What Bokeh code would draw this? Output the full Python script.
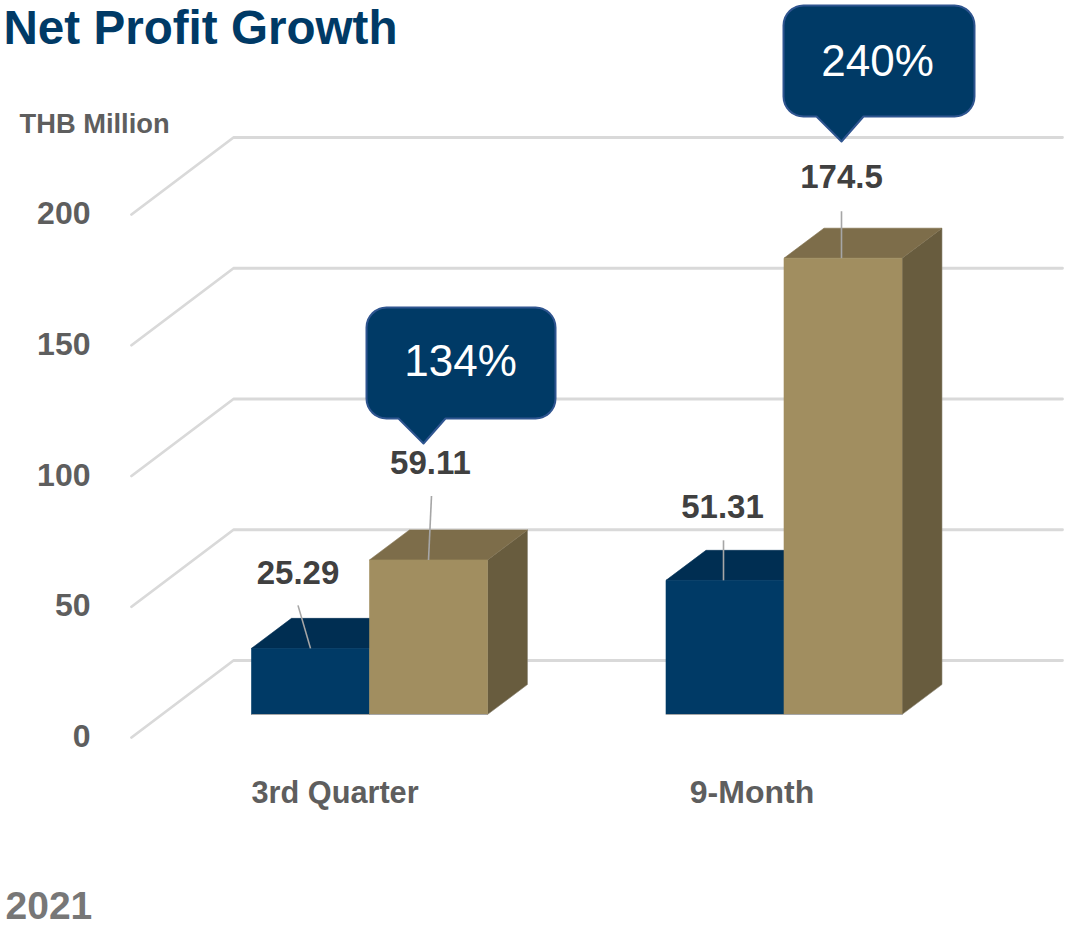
from bokeh.plotting import figure
from bokeh.embed import file_html
from bokeh.resources import INLINE
from bokeh.core.properties import value
import math

# ---- data ----
categories = ["3rd Quarter", "9-Month"]
series_prev = [25.29, 51.31]
series_curr = [59.11, 174.5]
growth_labels = ["134%", "240%"]
tick_values = [0, 50, 100, 150, 200]
prev_labels = ["25.29", "51.31"]
curr_labels = ["59.11", "174.5"]

# ---- layout ----
W, H = 1068, 930
PX = 2.615          # pixels per THB million
Y0 = 714            # pixel row of value 0 at the bars' front
def v(px):          # pixel height -> value units
    return px / PX

FONT = value("Liberation Sans")
BLUE = ("#003A66", "#002E52")
TAN = ("#A18E60", "#7D6D4A", "#685C3E")
GRID = "#D9D9D9"

p = figure(width=W, height=H, output_backend="svg", toolbar_location=None,
           x_range=(0, W), y_range=((Y0 - H) / PX, Y0 / PX),
           min_border=0, outline_line_color=None)
p.axis.visible = False
p.grid.visible = False

# walls: back gridlines plus the left floor/wall diagonals
wall_y = v(54)      # back wall offset
front_y = v(-23)    # front end of diagonals
for t in tick_values:
    p.line([131, 233, 1062], [t + front_y, t + wall_y, t + wall_y],
           line_color=GRID, line_width=2.8, line_join="round", line_cap="round")

# 3-D bars
BAR_W = 118
DX, DY = 40, v(30)
group_x = [251, 665.5]

def box(x, top, colors):
    r = x + BAR_W
    if len(colors) == 3:
        p.patch([r, r + DX, r + DX, r], [0, DY, top + DY, top],
                fill_color=colors[2], line_color="#8f8a7a", line_width=0.6)
    p.patch([x, x + DX, r + DX, r], [top, top + DY, top + DY, top],
            fill_color=colors[1], line_color=colors[1], line_width=0.6)
    p.quad(left=x, right=r, bottom=0, top=top, fill_color=colors[0],
           line_color=colors[0], line_width=0.6)
    p.line([x, r], [0, 0], line_color="#A6A6A6", line_width=1)

for i in range(len(categories)):
    box(group_x[i], series_prev[i], BLUE)
    box(group_x[i] + BAR_W, series_curr[i], TAN)

# leader lines: (x at label, height above bar, x at bar)
leaders_prev = [(297.5, 43, 310), (723, 40, 723)]
leaders_curr = [(431, 64, 428), (841, 47, 841)]
for (xa, up, xb), val in zip(leaders_prev + leaders_curr, series_prev + series_curr):
    p.line([xa, xb], [val + v(up), val], line_color="#A6A6A6", line_width=1.6)

def label(x, y, txt, size, color, align="center", style="bold"):
    p.text([x], [y], text=[txt], text_font=FONT, text_font_size=f"{size}px",
           text_color=color, text_align=align, text_baseline="alphabetic",
           text_font_style=style, y_offset=-0.04 * size)

# data labels
TXT = "#404040"
label(297.5, series_prev[0] + v(75), prev_labels[0], 33, TXT)
label(722, series_prev[1] + v(73), prev_labels[1], 33, TXT)
label(430, series_curr[0] + v(96), curr_labels[0], 33, TXT)
label(841, series_curr[1] + v(80), curr_labels[1], 33, TXT)

# axis texts
AX = "#5E5E5E"
for t in tick_values:
    label(90, t + front_y, str(t), 32, AX, align="right")
label(19, v(Y0 - 124), "THB Million", 27.3, AX, align="left")
label(251, v(Y0 - 793), categories[0], 30.7, AX, align="left")
label(751.5, v(Y0 - 793), categories[1], 32, AX)

# title and year
label(3, v(Y0 - 29), "Net Profit Growth", 47.6, "#003A66", align="left")
label(5, v(Y0 - 907), "2021", 39, "#777777", align="left")

# callouts
def callout(left, right, top, bottom, base_l, base_r, tip_x, tip_y, txt, tx, ty):
    R = 20
    xs, ys = [], []
    def arc(cx, cy, a0):
        for k in range(9):
            a = math.radians(a0 + k * 90 / 8)
            xs.append(cx + R * math.cos(a))
            ys.append(cy - R * math.sin(a))
    arc(left + R, top + R, 90)
    arc(left + R, bottom - R, 180)
    xs.extend([base_l, tip_x, base_r])
    ys.extend([bottom, tip_y, bottom])
    arc(right - R, bottom - R, 270)
    arc(right - R, top + R, 0)
    p.patch(xs, [v(Y0 - y) for y in ys], fill_color="#003A66",
            line_color="#2F5590", line_width=2, line_join="round")
    label(tx, v(Y0 - ty), txt, 44, "#FFFFFF", style="normal")

callout(366, 555, 307, 418, 398, 445, 423, 443, growth_labels[0], 460, 362)
callout(783, 974, 5, 116, 816, 863, 841, 141, growth_labels[1], 877, 62)

open("out.html", "w").write(file_html(p, INLINE))
